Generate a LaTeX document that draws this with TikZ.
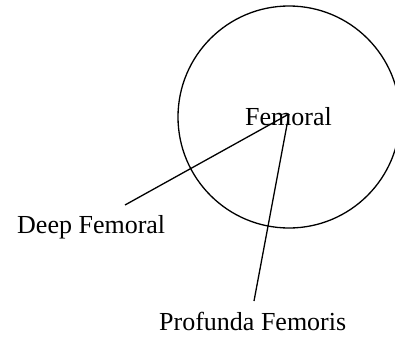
\documentclass[tikz,border=0pt]{standalone}
\usepackage{fontspec}
\setmainfont{Liberation Serif}
\begin{document}
\begin{tikzpicture}
[
    x=1pt, y=-1pt,
    label text/.style={font=\fontsize{26}{30}\selectfont, inner sep=0pt, anchor=base west},
    vessel/.style={draw, line width=1.3pt}
]
    \useasboundingbox (0,0) rectangle (395,337);
    \begin{scope}
        \clip (0,0) rectangle (395,337);
        \draw [vessel] (289,117) circle [radius=111];
    \end{scope}

    \node [label text] (femoral) at (245,125) {Femoral};
    \node [label text] (deep) at (17,233) {Deep Femoral};
    \node [label text] (profunda) at (159,330) {Profunda Femoris};

    \coordinate (apex) at (289,114);
    \coordinate (deep end) at (125,205);
    \coordinate (profunda end) at (254,301);

    \draw [vessel] (deep end) -- (apex);
    \draw [vessel] (profunda end) -- (apex);
\end{tikzpicture}
\end{document}
